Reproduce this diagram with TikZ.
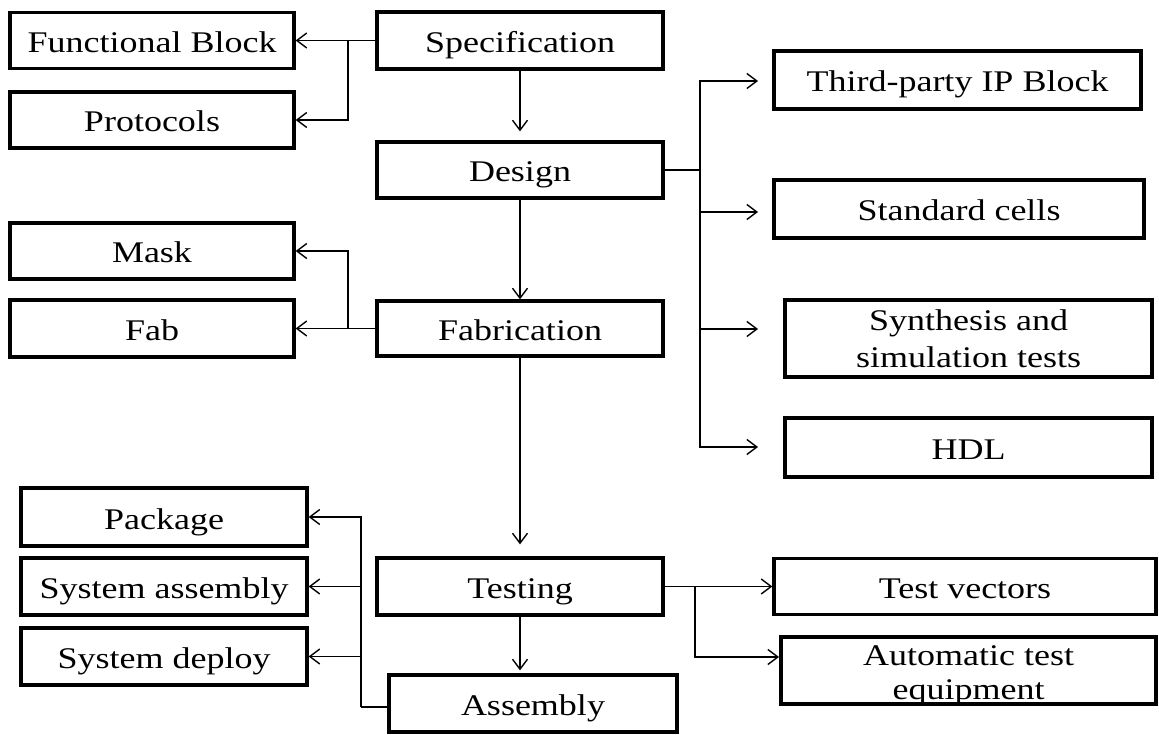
\documentclass[tikz,border=0pt]{standalone}
\usepackage{fontspec}
\setmainfont{Liberation Serif}[FakeStretch=1.2]
\usetikzlibrary{arrows.meta}
\begin{document}
\begin{tikzpicture}[x=1pt,y=-1pt,
  mbox/.style={draw,line width=3.2pt,inner sep=0pt,align=center,font=\fontsize{30}{37}\selectfont},
  box/.style={mbox,text height=27pt,text depth=3pt},
  conn/.style={line width=1.4pt},
  arr/.style={conn,-{Straight Barb[length=10pt,width=15pt,line width=1.4pt]}}]
\fill[white] (0,0) rectangle (1159,735);
\useasboundingbox (0,0) rectangle (1159,735);
% left column top
\node[box,minimum width=284pt,minimum height=56pt] (func) at (152,40.5) {Functional Block};
\node[box,minimum width=284pt,minimum height=56pt] (proto) at (152,120) {Protocols};
\node[box,minimum width=284pt,minimum height=56pt] (mask) at (152,251) {Mask};
\node[box,minimum width=284pt,minimum height=57pt] (fab) at (152,328.5) {Fab};
% centre column
\node[box,minimum width=286pt,minimum height=57pt] (spec) at (520,40.5) {Specification};
\node[box,minimum width=286pt,minimum height=56pt] (design) at (520,170) {Design};
\node[box,minimum width=286pt,minimum height=55pt] (fabr) at (520,328.5) {Fabrication};
\node[box,minimum width=286pt,minimum height=57pt] (testing) at (520,586.5) {Testing};
\node[box,minimum width=288pt,minimum height=57pt] (assembly) at (533,703.5) {Assembly};
% right column
\node[box,minimum width=367pt,minimum height=58pt] (third) at (957.5,80) {Third-party IP Block};
\node[box,minimum width=370pt,minimum height=58pt] (std) at (959,209) {Standard cells};
\node[mbox,minimum width=367pt,minimum height=77pt] (synth) at (968.5,338.5) {Synthesis and\\simulation tests};
\node[box,minimum width=367pt,minimum height=59pt] (hdl) at (968.5,447.5) {HDL};
\node[box,minimum width=382pt,minimum height=56pt] (testvec) at (965,586.5) {Test vectors};
\node[mbox,minimum width=375pt,minimum height=67pt,
  label={[font=\fontsize{30}{34}\selectfont,align=center,yshift=-5pt]center:{Automatic test\\equipment}}] (ate) at (968.5,670.5) {};
% left column bottom
\node[box,minimum width=286pt,minimum height=58pt] (package) at (164,517) {Package};
\node[box,minimum width=286pt,minimum height=57pt] (sysasm) at (164,586.5) {System assembly};
\node[box,minimum width=286pt,minimum height=57pt] (sysdep) at (164,656.5) {System deploy};
% connectors: specification
\coordinate (j1) at (348,40.5);
\draw[conn] (spec.west) -- (j1);
\draw[arr] (j1) -- (func.east);
\draw[arr] (j1) |- (proto.east);
\draw[arr,shorten >=9pt] (spec.south) -- (design.north);
% design
\coordinate (j2) at (700,170);
\coordinate (t1) at (758,81);
\coordinate (t2) at (758,212);
\coordinate (t3) at (758,329);
\coordinate (t4) at (758,447);
\draw[conn] (design.east) -- (j2);
\draw[arr] (j2) |- (t1);
\draw[arr] (j2) |- (t2);
\draw[arr] (j2) |- (t3);
\draw[arr] (j2) |- (t4);
\draw[arr] (design.south) -- (fabr.north);
% fabrication
\coordinate (j3) at (348,328.5);
\draw[conn] (fabr.west) -- (j3);
\draw[arr] (j3) -- (fab.east);
\draw[arr] (j3) |- (mask.east);
\draw[arr,shorten >=12pt] (fabr.south) -- (testing.north);
% testing
\draw[arr,shorten >=3pt] (testing.south) -- (testing.south |- assembly.north);
\coordinate (j5) at (695,586.5);
\coordinate (t5) at (779,657);
\draw[arr] (testing.east) -- (testvec.west);
\draw[arr] (j5) |- (t5);
% assembly
\coordinate (j4) at (361,707);
\draw[conn] (assembly.west |- j4) -- (j4);
\draw[arr] (j4) |- (package.east);
\draw[arr] (j4) |- (sysasm.east);
\draw[arr] (j4) |- (sysdep.east);
\end{tikzpicture}
\end{document}
